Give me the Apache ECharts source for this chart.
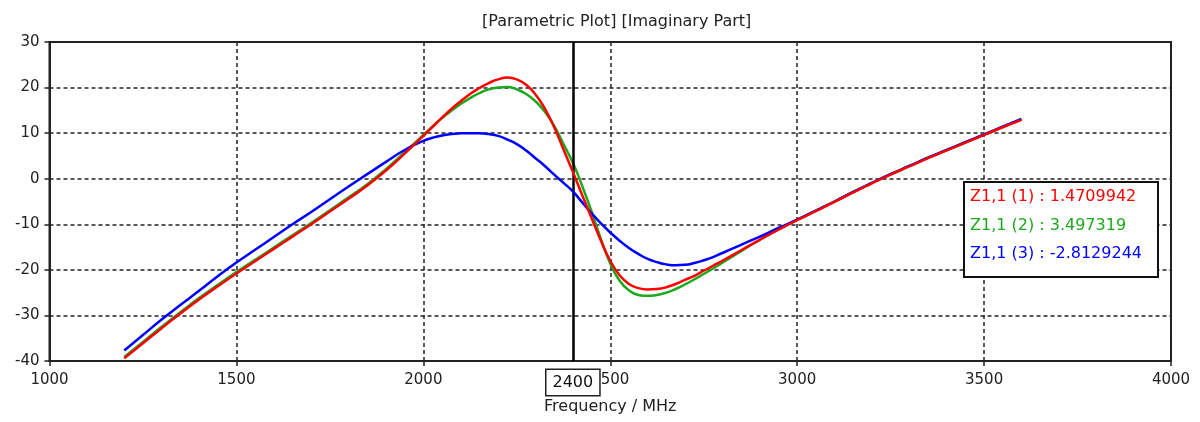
<!DOCTYPE html>
<html>
<head>
<meta charset="utf-8">
<script src="https://cdn.jsdelivr.net/npm/echarts@6/dist/echarts.min.js"></script>
<style>
html,body{margin:0;padding:0;background:#fff;}
#chart{width:1200px;height:422px;}
</style>
</head>
<body>
<div id="chart"></div>
<script>
// Frequency samples (MHz)
const freq = [1200,1250,1300,1350,1400,1450,1500,1550,1600,1650,1700,1750,1800,1850,1900,1950,
  2000,2025,2050,2075,2100,2125,2150,2175,2200,2225,2250,2275,2300,2325,2350,2375,2400,2425,2450,2475,
  2500,2525,2550,2575,2600,2625,2650,2675,2700,2725,2750,2775,2800,
  2850,2900,2950,3000,3050,3100,3150,3200,3250,3300,3350,3400,3450,3500,3550,3600];
// Z1,1 (1) imaginary part
const z1 = [-39.4,-36.1,-32.8,-29.6,-26.5,-23.6,-20.8,-18.1,-15.4,-12.7,-10.0,-7.2,-4.4,-1.5,1.8,5.5,
  9.4,11.4,13.4,15.3,17.0,18.6,19.9,21.0,21.8,22.2,21.8,20.6,18.5,15.4,11.3,6.4,1.5,-3.6,-8.6,-13.6,
  -18.0,-21.2,-23.1,-24.0,-24.3,-24.2,-23.8,-23.1,-22.2,-21.3,-20.2,-19.1,-18.0,
  -15.7,-13.4,-11.2,-9.1,-7.1,-5.1,-3.0,-1.0,0.9,2.7,4.5,6.2,7.9,9.6,11.3,12.9];
// Z1,1 (2)
const z2 = [-39.1,-35.8,-32.5,-29.3,-26.2,-23.3,-20.5,-17.8,-15.1,-12.4,-9.7,-6.9,-4.1,-1.2,2.1,5.8,
  9.6,11.5,13.3,14.9,16.4,17.7,18.8,19.6,20.0,20.1,19.6,18.6,17.0,14.7,11.6,7.6,3.5,-1.6,-7.2,-13.2,
  -18.6,-22.4,-24.5,-25.5,-25.7,-25.5,-25.0,-24.2,-23.2,-22.1,-20.9,-19.7,-18.4,
  -15.9,-13.4,-11.1,-9.0,-7.0,-5.0,-2.9,-0.9,1.0,2.8,4.6,6.3,8.0,9.7,11.4,13.0];
// Z1,1 (3)
const z3 = [-37.7,-34.3,-30.9,-27.7,-24.6,-21.4,-18.4,-15.6,-12.8,-10.0,-7.3,-4.5,-1.7,1.0,3.7,6.3,
  8.3,9.0,9.5,9.8,9.95,10.0,10.0,9.8,9.4,8.6,7.6,6.2,4.5,2.8,0.9,-0.9,-2.8,-5.2,-7.6,-9.8,
  -11.8,-13.6,-15.2,-16.5,-17.6,-18.3,-18.8,-19.0,-18.9,-18.5,-17.9,-17.2,-16.3,
  -14.5,-12.7,-10.8,-9.0,-7.0,-5.0,-2.9,-0.9,1.0,2.8,4.6,6.3,8.0,9.7,11.4,13.1];
const seriesNames = ['Z1,1 (1)','Z1,1 (2)','Z1,1 (3)'];
const cursorFreq = 2400;
const cursorValues = ['1.4709942','3.497319','-2.8129244'];
const titleText = '[Parametric Plot] [Imaginary Part]';
const xName = 'Frequency / MHz';

const colors = ['#ff0000','#1ea81e','#0000ff'];
const FONT = 'DejaVu Sans';

function pairs(v){ return freq.map((f,i)=>[f,v[i]]); }

const chart = echarts.init(document.getElementById('chart'), null, {renderer:'canvas'});
const seriesData = [z1,z2,z3];
const series = seriesData.map((v,i)=>({
  name: seriesNames[i],
  type: 'line',
  data: pairs(v),
  smooth: 0.5,
  showSymbol: false,
  symbol: 'none',
  lineStyle: {color: colors[i], width: 2.5},
  z: 3 + i
}));
series[0].markLine = {
  silent: true,
  symbol: 'none',
  animation: false,
  lineStyle: {color: '#000', width: 2.5, type: 'solid'},
  label: {
    show: true,
    position: 'start',
    distance: 9,
    formatter: String(cursorFreq),
    color: '#111',
    fontFamily: FONT,
    fontSize: 16,
    backgroundColor: '#fff',
    borderColor: '#222',
    borderWidth: 1.5,
    padding: [5, 6, 4, 6]
  },
  data: [{xAxis: cursorFreq}]
};
series[0].z = 10;

const legendLines = seriesNames.map((n,i)=>({
  type: 'text',
  left: 970,
  top: 189 + i*28.5,
  style: {text: n + ' : ' + cursorValues[i], fill: colors[i], font: '16px "' + FONT + '"'},
  z: 101
}));

chart.setOption({
  animation: false,
  backgroundColor: '#fff',
  title: {
    text: titleText,
    left: 477,
    top: 9,
    textStyle: {fontFamily: FONT, fontSize: 16, fontWeight: 'normal', color: '#222'}
  },
  grid: {left: 49.5, right: 29, top: 42, bottom: 61, show: true, borderColor: '#222', borderWidth: 2, backgroundColor: '#fff'},
  xAxis: {
    type: 'value', min: 1000, max: 4000, interval: 500,
    name: xName, nameLocation: 'middle', nameGap: 38,
    nameTextStyle: {fontFamily: FONT, fontSize: 16, color: '#222'},
    axisLine: {show: true, onZero: false, lineStyle: {color: '#222', width: 2}},
    axisTick: {show: true, length: 5, lineStyle: {color: '#222', width: 1.5}},
    axisLabel: {fontFamily: FONT, fontSize: 15, color: '#222', margin: 12, formatter: v => String(v)},
    splitLine: {show: true, lineStyle: {color: '#222', width: 1.5, type: [4, 3]}}
  },
  yAxis: {
    type: 'value', min: -40, max: 30, interval: 10,
    axisLine: {show: true, onZero: false, lineStyle: {color: '#222', width: 2}},
    axisTick: {show: true, length: 5, lineStyle: {color: '#222', width: 1.5}},
    axisLabel: {fontFamily: FONT, fontSize: 15, color: '#222', margin: 10, formatter: v => String(v)},
    splitLine: {show: true, lineStyle: {color: '#222', width: 1.5, type: [4, 3]}}
  },
  graphic: [
    {type: 'rect', left: 963, top: 181, shape: {width: 194, height: 95},
     style: {fill: '#fff', stroke: '#111', lineWidth: 2}, z: 100}
  ].concat(legendLines),
  series: series
});
</script>
</body>
</html>
